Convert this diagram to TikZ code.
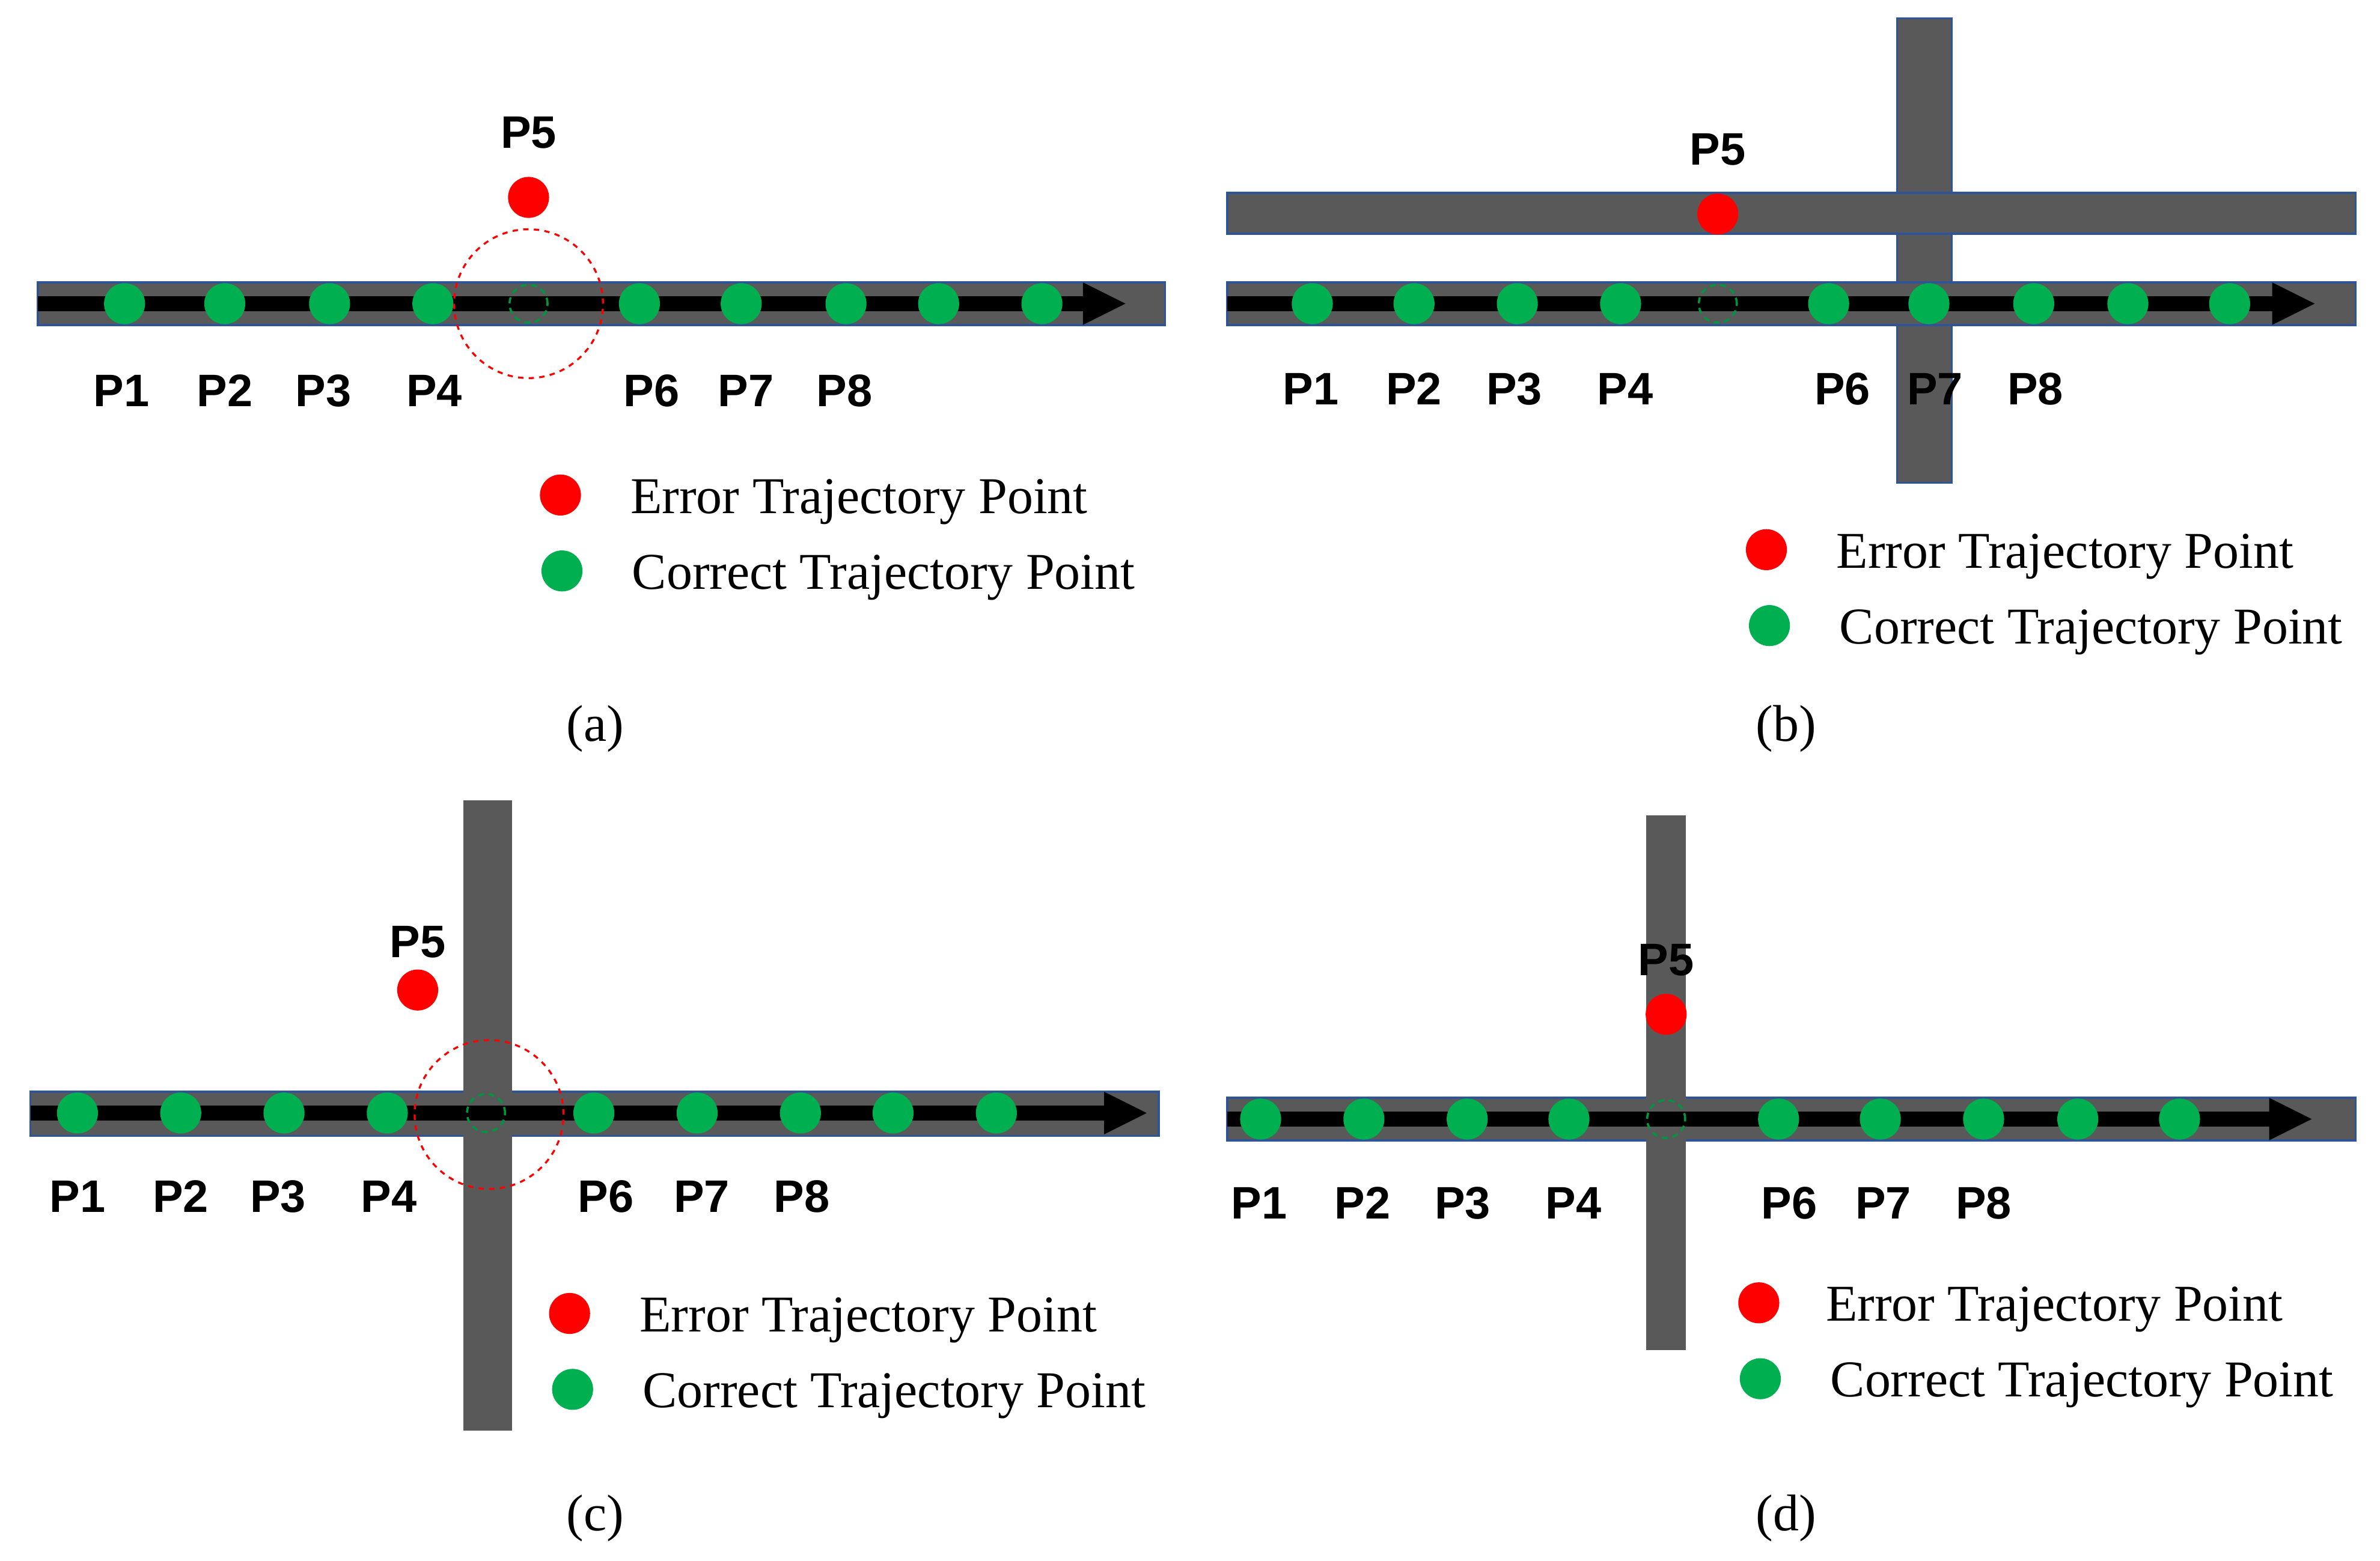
\documentclass[tikz,border=0pt]{standalone}
\usepackage{fontspec}
\setmainfont{Liberation Serif}
\newfontfamily\lblfont{Liberation Sans}
\definecolor{roadgray}{RGB}{89,89,89}
\definecolor{roadblue}{RGB}{47,85,151}
\definecolor{ptgreen}{RGB}{0,176,80}
\definecolor{ghostgreen}{RGB}{0,150,65}
\begin{document}
\begin{tikzpicture}[x=1pt,y=-1pt,
  road/.style={fill=roadgray, draw=roadblue, line width=1.4pt},
  vroad/.style={fill=roadgray},
  traj/.style={line width=10pt, black},
  head/.style={fill=black},
  gdot/.style={circle, fill=ptgreen, minimum size=27pt, inner sep=0pt},
  rdot/.style={circle, fill=red, minimum size=27pt, inner sep=0pt},
  ghost/.style={circle, draw=ghostgreen, dash pattern=on 4pt off 3pt, line width=1.4pt, minimum size=25pt, inner sep=0pt},
  zone/.style={circle, draw=red, dash pattern=on 3.5pt off 3.5pt, line width=1.3pt, minimum size=98pt, inner sep=0pt},
  plabel/.style={font=\lblfont\bfseries\fontsize{30}{30}\selectfont, inner sep=0pt, anchor=base},
  legtext/.style={font=\fontsize{34}{34}\selectfont, inner sep=0pt, anchor=base west},
  captext/.style={font=\fontsize{34}{34}\selectfont, inner sep=0pt, anchor=base}
]
\useasboundingbox (0,0) rectangle (1567,1028);

% ---------------- (a) ----------------
\draw[road] (25,186) rectangle (767,214);
\coordinate (as) at (25,200);
\coordinate (ae) at (714,200);
\draw[traj] (as) -- (ae);
\fill[head] (713,186) -- (741,200) -- (713,214) -- cycle;
\foreach \i/\x in {1/82,2/148,3/217,4/285,6/421,7/488,8/557,9/618,10/686}
  \node[gdot] (a\i) at (\x,200) {};
\node[ghost] (a5) at (348,200) {};
\node[zone] (az) at (348,200) {};
\node[rdot] (ar) at (348,130) {};
\node[plabel] (a5l) at (348,97.5) {P5};
\foreach \t/\x in {P1/80,P2/148,P3/213,P4/286,P6/429,P7/491,P8/556}
  \node[plabel] (a\t) at (\x,267.5) {\t};
\node[rdot] (alr) at (369,326) {};
\node[gdot] (alg) at (370,376) {};
\node[legtext] (alrt) at (415,338) {Error Trajectory Point};
\node[legtext] (algt) at (416,388) {Correct Trajectory Point};
\node[captext] (acap) at (392,488) {(a)};

% ---------------- (b) ----------------
\draw[road] (1249,12) rectangle (1285,318);
\draw[road] (808,127) rectangle (1551,154);
\draw[road] (808,186) rectangle (1551,214);
\coordinate (bs) at (808,200);
\coordinate (be) at (1497,200);
\draw[traj] (bs) -- (be);
\fill[head] (1496,186) -- (1524,200) -- (1496,214) -- cycle;
\foreach \i/\x in {1/864,2/931,3/999,4/1067,6/1204,7/1270,8/1339,9/1401,10/1468}
  \node[gdot] (b\i) at (\x,200) {};
\node[ghost] (b5) at (1131,200) {};
\node[rdot] (br) at (1131,141) {};
\node[plabel] (b5l) at (1131,108.5) {P5};
\foreach \t/\x in {P1/863,P2/931,P3/997,P4/1070,P6/1213,P7/1274,P8/1340}
  \node[plabel] (b\t) at (\x,266.5) {\t};
\node[rdot] (blr) at (1163,362) {};
\node[gdot] (blg) at (1165,412) {};
\node[legtext] (blrt) at (1209,374) {Error Trajectory Point};
\node[legtext] (blgt) at (1211,424) {Correct Trajectory Point};
\node[captext] (bcap) at (1176,488) {(b)};

% ---------------- (c) ----------------
\draw[road] (20,719) rectangle (763,748);
\fill[vroad] (305,527) rectangle (337,942);
\coordinate (cs) at (20,733);
\coordinate (ce) at (728,733);
\draw[traj] (cs) -- (ce);
\fill[head] (727,719) -- (755,733) -- (727,747) -- cycle;
\foreach \i/\x in {1/51,2/119,3/187,4/255,6/391,7/459,8/527,9/588,10/656}
  \node[gdot] (c\i) at (\x,733) {};
\node[ghost] (c5) at (320,733) {};
\node[zone] (cz) at (322,734) {};
\node[rdot] (cr) at (275,652) {};
\node[plabel] (c5l) at (275,630.5) {P5};
\foreach \t/\x in {P1/51,P2/119,P3/183,P4/256,P6/399,P7/462,P8/528}
  \node[plabel] (c\t) at (\x,798.5) {\t};
\node[rdot] (clr) at (375,865) {};
\node[gdot] (clg) at (377,915) {};
\node[legtext] (clrt) at (421,877) {Error Trajectory Point};
\node[legtext] (clgt) at (423,927) {Correct Trajectory Point};
\node[captext] (ccap) at (392,1008) {(c)};

% ---------------- (d) ----------------
\draw[road] (808,723) rectangle (1551,751);
\fill[vroad] (1084,537) rectangle (1110,889);
\coordinate (ds) at (808,737);
\coordinate (de) at (1495,737);
\draw[traj] (ds) -- (de);
\fill[head] (1494,723) -- (1522,737) -- (1494,751) -- cycle;
\foreach \i/\x in {1/830,2/898,3/966,4/1033,6/1171,7/1238,8/1306,9/1368,10/1435}
  \node[gdot] (d\i) at (\x,737) {};
\node[ghost] (d5) at (1097,737) {};
\node[rdot] (dr) at (1097,668) {};
\node[plabel] (d5l) at (1097,642.5) {P5};
\foreach \t/\x in {P1/829,P2/897,P3/963,P4/1036,P6/1178,P7/1240,P8/1306}
  \node[plabel] (d\t) at (\x,802.5) {\t};
\node[rdot] (dlr) at (1158,858) {};
\node[gdot] (dlg) at (1159,908) {};
\node[legtext] (dlrt) at (1202,870) {Error Trajectory Point};
\node[legtext] (dlgt) at (1205,920) {Correct Trajectory Point};
\node[captext] (dcap) at (1176,1008) {(d)};
\end{tikzpicture}
\end{document}
